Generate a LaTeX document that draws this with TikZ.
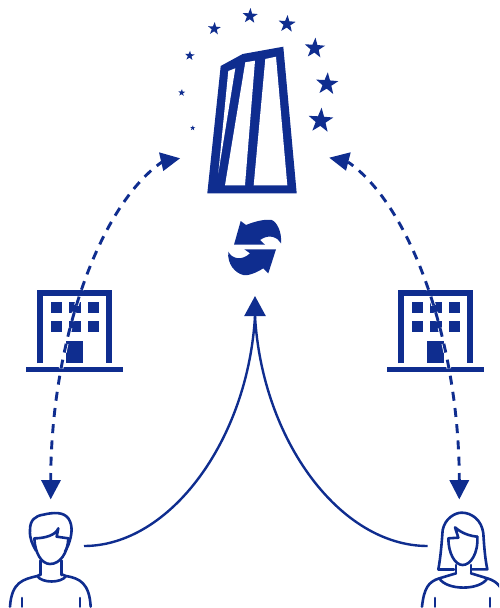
\documentclass[tikz,border=0pt]{standalone}
\usetikzlibrary{arrows.meta,shapes.geometric}
\definecolor{eublue}{HTML}{0F2D8F}
\tikzset{
  x=1pt,y=-1pt,
  outline/.style={draw=eublue,line width=2.6pt,line join=round,line cap=round,fill=none},
  flow/.style={draw=eublue,line width=2.4pt},
  dashflow/.style={line width=2.9pt,dash pattern=on 9pt off 7.3pt,dash phase=2pt},
  halo/.style={dashflow,draw=white,line width=4.6pt},
  estar/.style={star,star points=5,star point ratio=2.5,fill=eublue,inner sep=0pt,outer sep=0pt,shape border rotate=-4},
  icon/.style={shift={(#1,470)},scale=0.33333}
}
\newcommand{\buildingshape}[1]{%
  \begin{scope}[xshift=#1]
    \draw[draw=eublue,line width=6pt,line join=miter,fill=none] (40.3,363.3)--(40.3,293)--(108.7,293)--(108.7,363.3);
    \fill[eublue] (26,366.7) rectangle (122.7,372.3);
    \foreach \wx in {50.7,69,87.5}{\foreach \wy in {301.7,321}{
      \fill[eublue] (\wx,\wy) rectangle ++(11.5,11.3);}}
    \fill[eublue] (66,340.7) rectangle (83.3,363.3);
  \end{scope}}
\begin{document}
\begin{tikzpicture}
\useasboundingbox (0,0) rectangle (499,608);
\clip (0,0) rectangle (499,608);
% stars
\foreach \n/\sx/\sy/\sr in {a/250/16/8,b/287/24/9,c/314.7/48.3/10.7,d/327/84/11.7,e/320.7/120.7/13,f/214.3/28.7/6.7,g/189.7/55.7/5,h/181.7/92.7/3.7,i/192.7/128/2.7}
  \node[estar,minimum size={2*\sr*1pt}] (star\n) at (\sx,\sy) {};
% tower
\fill[eublue] (220.7,66)--(242.7,54)--(283.3,46.7)--(296.7,193.3)--(207.3,193.3)--cycle;
\fill[white] (228.3,71)--(235.3,68.3)--(218.3,173.3)--cycle;
\fill[white] (245.3,62.3)--(255,60.7)--(245,185.3)--(225,185.3)--cycle;
\fill[white] (265.3,59)--(276,56.7)--(287.3,185.3)--(253.7,185.3)--cycle;
% refresh icon
\fill[eublue] (234,244.7)--(240.7,221)--(246,225) .. controls (256,221) and (265,219) .. (271.7,220)
  .. controls (277,222) and (282,232) .. (281,243.3) .. controls (278,238) and (270,233) .. (260,240)
  --(265,244.7)--cycle;
\fill[eublue] (276,249.3)--(268.3,273.3)--(263.3,268.3) .. controls (256,273) and (248,276) .. (243.3,275)
  .. controls (235,273) and (227,264) .. (228.3,251.7) .. controls (232,259) and (242,261) .. (250,253.3)
  --(244.3,249.3)--cycle;
% buildings
\buildingshape{0pt}
\buildingshape{361pt}
% ends of connectors
\coordinate (manEnd) at (84,546);
\coordinate (womanEnd) at (427.7,546);
\coordinate (hubBase) at (255,316);
\coordinate (hubTip) at (255,296);
\coordinate (leftTop) at (162,162);
\coordinate (rightTop) at (348,162);
\coordinate (leftLow) at (50.7,480);
\coordinate (rightLow) at (459.3,480);
% man
\begin{scope}[icon=0]
  \draw[outline] (108,242) .. controls (98,225) and (88,205) .. (90,180) .. controls (90,150) and (105,138) .. (130,134)
    .. controls (160,127) and (190,125) .. (205,145) .. controls (218,165) and (218,190) .. (205,225) -- (195,245);
  \draw[outline] (103,205) .. controls (135,205) and (168,195) .. (175,175) -- (170,200) -- (205,205);
  \draw[outline] (103,205) .. controls (105,250) and (125,282) .. (150,282) .. controls (180,282) and (203,250) .. (205,205);
  \draw[outline] (122,272)--(122,315) (185,272)--(185,315);
  \draw[outline] (112,318) .. controls (125,340) and (185,340) .. (198,318);
  \draw[outline] (122,313) -- (112,318) .. controls (70,328) and (35,335) .. (30,410);
  \draw[outline] (185,313) -- (198,318) .. controls (240,325) and (268,340) .. (272,410);
  \draw[outline] (66,384)--(66,410) (240,384)--(240,410);
\end{scope}
% woman
\begin{scope}[icon=400]
  \draw[outline] (115,298) .. controls (122,260) and (125,220) .. (128,180) .. controls (135,145) and (165,128) .. (185,128)
    .. controls (215,128) and (245,150) .. (250,190) .. controls (252,225) and (255,265) .. (262,298)
    -- (215,298);
  \draw[outline] (115,298) -- (162,298);
  \draw[outline] (145,205) -- (175,203) -- (165,172) .. controls (185,190) and (210,198) .. (232,200);
  \draw[outline] (145,205) .. controls (145,250) and (165,285) .. (188,285) .. controls (212,285) and (235,250) .. (232,200);
  \draw[outline] (168,285)--(168,310) (213,285)--(213,310);
  \draw[outline] (168,310)--(118,325) .. controls (85,335) and (72,355) .. (66,410);
  \draw[outline] (213,310)--(262,325) .. controls (295,335) and (312,355) .. (318,410);
  \draw[outline] (118,325) .. controls (140,362) and (240,362) .. (262,325);
  \draw[outline] (105,384)--(105,410) (270,384)--(270,410);
\end{scope}
% main flows
\draw[flow] (manEnd) .. controls (170,546) and (248,440) .. (hubBase);
\draw[flow] (womanEnd) .. controls (340,546) and (262,440) .. (hubBase);
\draw[flow,-{Triangle[length=20pt,width=21pt]}] (hubBase) -- (hubTip);
% dashed flows
\draw[halo] (leftLow) .. controls (51,340) and (100,205) .. (leftTop);
\draw[halo] (rightLow) .. controls (459,340) and (410,205) .. (rightTop);
\draw[eublue,dashflow] (leftLow) .. controls (51,340) and (100,205) .. (leftTop);
\draw[eublue,dashflow] (rightLow) .. controls (459,340) and (410,205) .. (rightTop);
% arrowheads of the dashed flows
\fill[eublue] (180,158.3)--(159,152.3)--(163.3,171)--cycle;
\fill[eublue] (329.3,157.7)--(350.7,152.3)--(346,170.7)--cycle;
\fill[eublue] (50.7,499.3)--(41,480)--(61,480)--cycle;
\fill[eublue] (459.3,499.3)--(449.3,480)--(469.3,480)--cycle;
\end{tikzpicture}
\end{document}
